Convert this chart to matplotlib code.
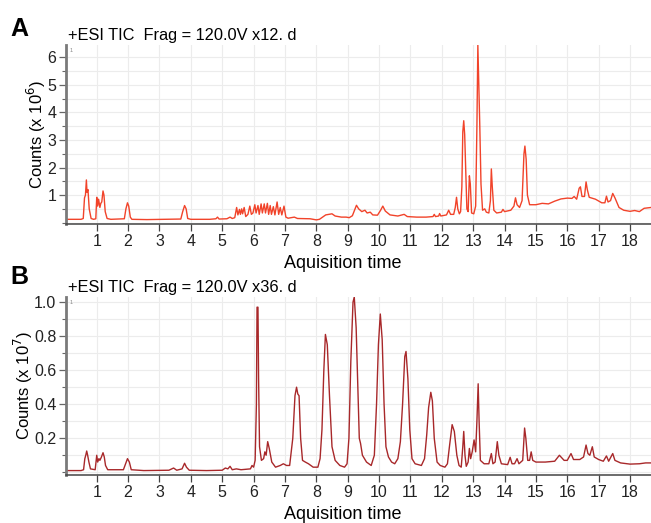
import numpy as np
import matplotlib
matplotlib.use("Agg")
import matplotlib.pyplot as plt
from matplotlib.ticker import MultipleLocator

plt.rcParams['font.family'] = ['Liberation Sans', 'DejaVu Sans']

# --- DATA ---
# panel A : +ESI TIC x12.d, counts in 1e6
trace_a = [(0.02, 0.12), (0.5, 0.12), (0.57, 0.15), (0.61, 0.9), (0.64, 1.0), (0.67, 1.55),
           (0.69, 1.1), (0.72, 1.2), (0.76, 0.5), (0.82, 0.15), (0.9, 0.12), (0.97, 0.14),
           (1.0, 0.92), (1.03, 0.6), (1.06, 0.85), (1.1, 0.55), (1.13, 0.7), (1.16, 0.75),
           (1.2, 1.15), (1.23, 1.0), (1.27, 0.4), (1.33, 0.15), (1.45, 0.12), (1.88, 0.14),
           (1.93, 0.5), (1.98, 0.72), (2.02, 0.6), (2.07, 0.2), (2.12, 0.12), (2.6, 0.11),
           (3.2, 0.12), (3.68, 0.13), (3.74, 0.4), (3.8, 0.62), (3.85, 0.5), (3.9, 0.15),
           (4.0, 0.12), (4.6, 0.12), (4.8, 0.14), (4.85, 0.2), (4.9, 0.13), (5.15, 0.14),
           (5.25, 0.2), (5.32, 0.15), (5.4, 0.18), (5.46, 0.55), (5.5, 0.28), (5.55, 0.48),
           (5.58, 0.3), (5.62, 0.5), (5.65, 0.32), (5.7, 0.55), (5.75, 0.22), (5.82, 0.3),
           (5.88, 0.6), (5.93, 0.3), (5.98, 0.35), (6.04, 0.65), (6.08, 0.35), (6.14, 0.62),
           (6.18, 0.3), (6.24, 0.68), (6.28, 0.35), (6.34, 0.68), (6.38, 0.35), (6.44, 0.7),
           (6.48, 0.3), (6.53, 0.62), (6.57, 0.3), (6.63, 0.58), (6.68, 0.28), (6.75, 0.75),
           (6.8, 0.3), (6.85, 0.55), (6.9, 0.28), (6.97, 0.6), (7.03, 0.2), (7.1, 0.16),
           (7.3, 0.2), (7.4, 0.15), (7.8, 0.14), (8.0, 0.1), (8.1, 0.12), (8.3, 0.28),
           (8.5, 0.32), (8.6, 0.24), (8.8, 0.2), (8.95, 0.2), (9.05, 0.18), (9.15, 0.25),
           (9.28, 0.63), (9.35, 0.5), (9.45, 0.4), (9.55, 0.45), (9.62, 0.35), (9.72, 0.38),
           (9.8, 0.28), (9.95, 0.27), (10.05, 0.45), (10.12, 0.6), (10.2, 0.42), (10.35, 0.28),
           (10.6, 0.24), (10.8, 0.3), (10.9, 0.22), (11.2, 0.2), (11.5, 0.2), (11.72, 0.22),
           (11.76, 0.3), (11.8, 0.22), (11.9, 0.24), (11.93, 0.33), (11.97, 0.24), (12.15, 0.28),
           (12.22, 0.45), (12.28, 0.3), (12.38, 0.3), (12.43, 0.55), (12.47, 0.92), (12.51, 0.5),
           (12.56, 0.32), (12.6, 0.4), (12.64, 1.3), (12.67, 3.3), (12.7, 3.7), (12.73, 3.2),
           (12.76, 2.0), (12.8, 0.5), (12.84, 0.4), (12.88, 1.7), (12.91, 1.4), (12.95, 0.35),
           (13.02, 0.32), (13.08, 0.6), (13.12, 3.5), (13.15, 6.45), (13.18, 5.0), (13.21, 3.6),
           (13.25, 1.4), (13.3, 0.45), (13.37, 0.5), (13.42, 0.38), (13.5, 0.35), (13.55, 0.8),
           (13.58, 1.95), (13.61, 1.3), (13.66, 0.45), (13.75, 0.35), (13.9, 0.38), (13.95, 0.48),
           (14.0, 0.4), (14.2, 0.45), (14.3, 0.6), (14.35, 0.9), (14.4, 0.65), (14.48, 0.55),
           (14.56, 0.8), (14.62, 2.5), (14.65, 2.78), (14.69, 2.3), (14.73, 1.0), (14.8, 0.65),
           (15.0, 0.65), (15.2, 0.7), (15.4, 0.68), (15.6, 0.78), (15.8, 0.86), (16.0, 0.89),
           (16.15, 0.88), (16.22, 0.95), (16.3, 0.85), (16.38, 1.25), (16.42, 1.3), (16.47, 0.95),
           (16.55, 0.95), (16.6, 1.48), (16.64, 1.2), (16.7, 0.92), (16.9, 0.85), (17.1, 0.72),
           (17.2, 0.72), (17.25, 0.96), (17.3, 0.75), (17.38, 0.8), (17.45, 1.06), (17.52, 0.9),
           (17.65, 0.55), (17.8, 0.45), (18.0, 0.41), (18.15, 0.44), (18.3, 0.4), (18.45, 0.52),
           (18.67, 0.55)]

# panel B : +ESI TIC x36.d, counts in 1e7
trace_b = [(0.02, 0.01), (0.5, 0.01), (0.58, 0.015), (0.62, 0.08), (0.65, 0.1), (0.68, 0.125),
           (0.71, 0.1), (0.75, 0.06), (0.8, 0.02), (0.95, 0.015), (1.0, 0.1), (1.03, 0.06),
           (1.07, 0.08), (1.1, 0.07), (1.15, 0.09), (1.2, 0.115), (1.24, 0.09), (1.28, 0.04),
           (1.35, 0.015), (1.85, 0.015), (1.92, 0.05), (1.98, 0.08), (2.04, 0.06), (2.1, 0.015),
           (2.5, 0.01), (3.3, 0.012), (3.45, 0.025), (3.55, 0.012), (3.72, 0.02), (3.8, 0.053),
           (3.86, 0.03), (3.95, 0.012), (4.5, 0.01), (5.0, 0.012), (5.1, 0.025), (5.18, 0.02),
           (5.25, 0.035), (5.32, 0.015), (5.45, 0.02), (5.6, 0.015), (5.8, 0.018), (5.9, 0.02),
           (5.95, 0.04), (6.0, 0.03), (6.05, 0.07), (6.09, 0.4), (6.11, 0.97), (6.14, 0.97),
           (6.16, 0.55), (6.19, 0.15), (6.25, 0.07), (6.32, 0.08), (6.36, 0.12), (6.4, 0.1),
           (6.45, 0.18), (6.5, 0.14), (6.58, 0.06), (6.7, 0.03), (6.85, 0.04), (6.95, 0.05),
           (7.05, 0.04), (7.15, 0.04), (7.25, 0.2), (7.32, 0.45), (7.37, 0.5), (7.41, 0.46),
           (7.45, 0.45), (7.5, 0.2), (7.56, 0.07), (7.65, 0.06), (7.75, 0.05), (7.9, 0.03),
           (8.05, 0.03), (8.12, 0.08), (8.18, 0.25), (8.24, 0.6), (8.29, 0.81), (8.35, 0.75),
           (8.42, 0.45), (8.5, 0.15), (8.6, 0.07), (8.75, 0.04), (8.9, 0.03), (8.98, 0.05),
           (9.04, 0.2), (9.1, 0.65), (9.17, 1.0), (9.21, 1.03), (9.27, 0.85), (9.33, 0.45),
           (9.37, 0.2), (9.41, 0.17), (9.47, 0.1), (9.6, 0.06), (9.75, 0.04), (9.85, 0.1),
           (9.92, 0.4), (9.98, 0.75), (10.04, 0.93), (10.1, 0.78), (10.16, 0.4), (10.22, 0.15),
           (10.3, 0.09), (10.4, 0.06), (10.5, 0.05), (10.6, 0.08), (10.68, 0.18), (10.75, 0.4),
           (10.82, 0.68), (10.86, 0.71), (10.92, 0.55), (10.98, 0.25), (11.05, 0.08), (11.15, 0.05),
           (11.35, 0.04), (11.45, 0.08), (11.52, 0.22), (11.58, 0.38), (11.65, 0.47), (11.7, 0.42),
           (11.76, 0.2), (11.85, 0.06), (11.95, 0.04), (12.1, 0.03), (12.18, 0.05), (12.25, 0.16),
           (12.33, 0.28), (12.4, 0.24), (12.48, 0.1), (12.55, 0.04), (12.62, 0.03), (12.67, 0.15),
           (12.7, 0.24), (12.74, 0.1), (12.78, 0.035), (12.84, 0.06), (12.88, 0.14), (12.92, 0.08),
           (12.97, 0.12), (13.03, 0.19), (13.08, 0.12), (13.12, 0.3), (13.16, 0.52), (13.19, 0.3),
           (13.23, 0.07), (13.35, 0.05), (13.5, 0.05), (13.58, 0.11), (13.63, 0.05), (13.7, 0.06),
           (13.77, 0.18), (13.82, 0.1), (13.9, 0.05), (14.1, 0.045), (14.18, 0.088), (14.24, 0.05),
           (14.32, 0.05), (14.4, 0.08), (14.46, 0.05), (14.58, 0.07), (14.64, 0.26), (14.68, 0.2),
           (14.74, 0.07), (14.8, 0.07), (14.85, 0.12), (14.9, 0.07), (15.0, 0.06), (15.3, 0.06),
           (15.6, 0.065), (15.75, 0.1), (15.9, 0.07), (16.0, 0.07), (16.12, 0.11), (16.2, 0.075),
           (16.4, 0.075), (16.52, 0.09), (16.6, 0.16), (16.66, 0.11), (16.72, 0.1), (16.8, 0.15),
           (16.86, 0.09), (17.0, 0.075), (17.15, 0.065), (17.25, 0.096), (17.32, 0.065),
           (17.45, 0.11), (17.52, 0.07), (17.7, 0.055), (18.0, 0.048), (18.3, 0.05),
           (18.5, 0.055), (18.67, 0.055)]

rt_a, counts_a = np.array(trace_a).T
rt_b, counts_b = np.array(trace_b).T

titles = ["+ESI TIC  Frag = 120.0V x12. d", "+ESI TIC  Frag = 120.0V x36. d"]
ylabels = ["Counts (x 10$^6$)", "Counts (x 10$^7$)"]
xticks = list(range(1, 19))

# --- FIGURE ---
fig = plt.figure(figsize=(6.51, 5.23), dpi=100)
W, H = 651, 523

def make_axes(top_px, bot_px):
    return fig.add_axes([66 / W, 1 - bot_px / H, 585 / W, (bot_px - top_px) / H])

ax_a = make_axes(45, 224)
ax_b = make_axes(297, 475)

panels = [
    (ax_a, rt_a, counts_a, '#f1432a', (-0.05, 6.45), 0.5, [1, 2, 3, 4, 5, 6], "%d", -0.030),
    (ax_b, rt_b, counts_b, '#a8282a', (-0.016, 1.03), 0.1, [0.2, 0.4, 0.6, 0.8, 1.0], "%.1f", -0.053),
]

for i, (ax, x, y, col, ylim, minor, yt, fmt, lab_x) in enumerate(panels):
    ax.plot(x, y, color=col, lw=1.0)
    ax.set_xlim(0.02, 18.67)
    ax.set_ylim(*ylim)

    ax.set_xticks(xticks)
    ax.set_xticklabels([str(t) for t in xticks], fontsize=11.5, color='#222222')
    ax.set_yticks(yt)
    ax.set_yticklabels([fmt % v for v in yt], fontsize=11.5, color='#222222')
    ax.yaxis.set_minor_locator(MultipleLocator(minor))

    # light grid
    ax.grid(True, which='major', axis='x', color='#ececec', lw=0.8)
    ax.grid(True, which='both', axis='y', color='#ececec', lw=0.8)
    ax.set_axisbelow(True)

    for s in ['top', 'right']:
        ax.spines[s].set_visible(False)
    ax.spines['left'].set_color('#7a7a7a')
    ax.spines['left'].set_linewidth(2.0)
    ax.spines['bottom'].set_color('#444444')
    ax.spines['bottom'].set_linewidth(1.1)
    ax.tick_params(axis='x', which='major', length=5, width=0.9, color='#444444', pad=2)
    ax.tick_params(axis='y', which='major', length=5, width=0.9, color='#666666', pad=2)
    ax.tick_params(axis='y', which='minor', length=3, width=0.8, color='#666666')

    ax.set_ylabel(ylabels[i], fontsize=12)
    ax.yaxis.set_label_coords(lab_x, 0.5)
    ax.text(0.003, 1.012, titles[i], transform=ax.transAxes, fontsize=11.8,
            ha='left', va='bottom')
    ax.text(0.006, 0.985, "1", transform=ax.transAxes, fontsize=4, color='#888888',
            ha='left', va='top')

# panel letters and x labels
fig.text(10 / W, 1 - 36 / H, "A", fontsize=18, fontweight='bold', ha='left', va='baseline')
fig.text(10 / W, 1 - 284 / H, "B", fontsize=18, fontweight='bold', ha='left', va='baseline')
fig.text(343 / W, 1 - 268 / H, "Aquisition time", fontsize=13, ha='center', va='baseline')
fig.text(343 / W, 1 - 519 / H, "Aquisition time", fontsize=13, ha='center', va='baseline')

fig.savefig("out.png", dpi=100)
